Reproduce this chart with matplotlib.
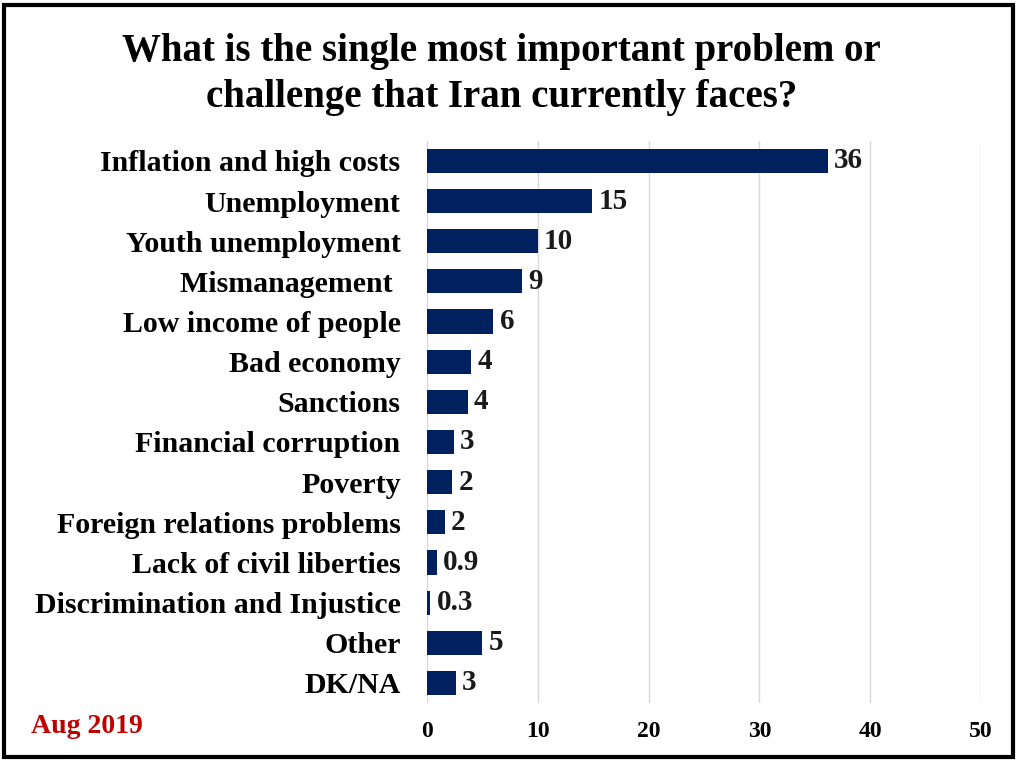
import matplotlib.pyplot as plt
from matplotlib.patches import Rectangle

# Survey data (Aug 2019)
categories = ['Inflation and high costs', 'Unemployment', 'Youth unemployment',
              'Mismanagement ', 'Low income of people', 'Bad economy', 'Sanctions',
              'Financial corruption', 'Poverty', 'Foreign relations problems',
              'Lack of civil liberties', 'Discrimination and Injustice', 'Other', 'DK/NA']
values = [36.2, 14.9, 10.0, 8.6, 6.0, 4.0, 3.7, 2.4, 2.3, 1.6, 0.9, 0.3, 5.0, 2.6]
value_labels = ['36', '15', '10', '9', '6', '4', '4', '3', '2', '2', '0.9', '0.3', '5', '3']
xticks = [0, 10, 20, 30, 40, 50]

plt.rcParams['font.family'] = ['Liberation Serif', 'DejaVu Serif']
plt.rcParams['font.weight'] = 'bold'

fig = plt.figure(figsize=(10.24, 7.65), dpi=100)
ax = fig.add_axes([0.417, 0.081, 0.541, 0.735])

y = range(len(categories))
ax.barh(y, values, height=0.6, color='#002060', zorder=3)
for yi, v, lab in zip(y, values, value_labels):
    ax.text(v + 0.55, yi, lab, va='center', ha='left', fontsize=21,
            fontweight='bold', color='#1a1a1a')

ax.set_xlim(0, 50)
ax.set_ylim(len(categories) - 0.5, -0.5)
ax.set_xticks(xticks)
ax.set_yticks(list(y))
ax.set_yticklabels(categories, fontsize=21.5, fontweight='bold')
ax.tick_params(axis='y', length=0, pad=19)
ax.tick_params(axis='x', length=0, pad=13, labelsize=17)
ax.grid(axis='x', color='#d9d9d9', linewidth=1, zorder=0)
for s in ax.spines.values():
    s.set_visible(False)

fig.text(0.49, 0.902, 'What is the single most important problem or\nchallenge that Iran currently faces?',
         ha='center', va='center', fontsize=28, fontweight='bold', linespacing=1.32)
fig.text(0.085, 0.05, 'Aug 2019', ha='center', va='center', fontsize=20,
         fontweight='bold', color='#c00000')

fig.patches.append(Rectangle((0.004, 0.01), 0.985, 0.984, transform=fig.transFigure,
                             fill=False, edgecolor='black', linewidth=3))

fig.savefig('out.png', dpi=100)
